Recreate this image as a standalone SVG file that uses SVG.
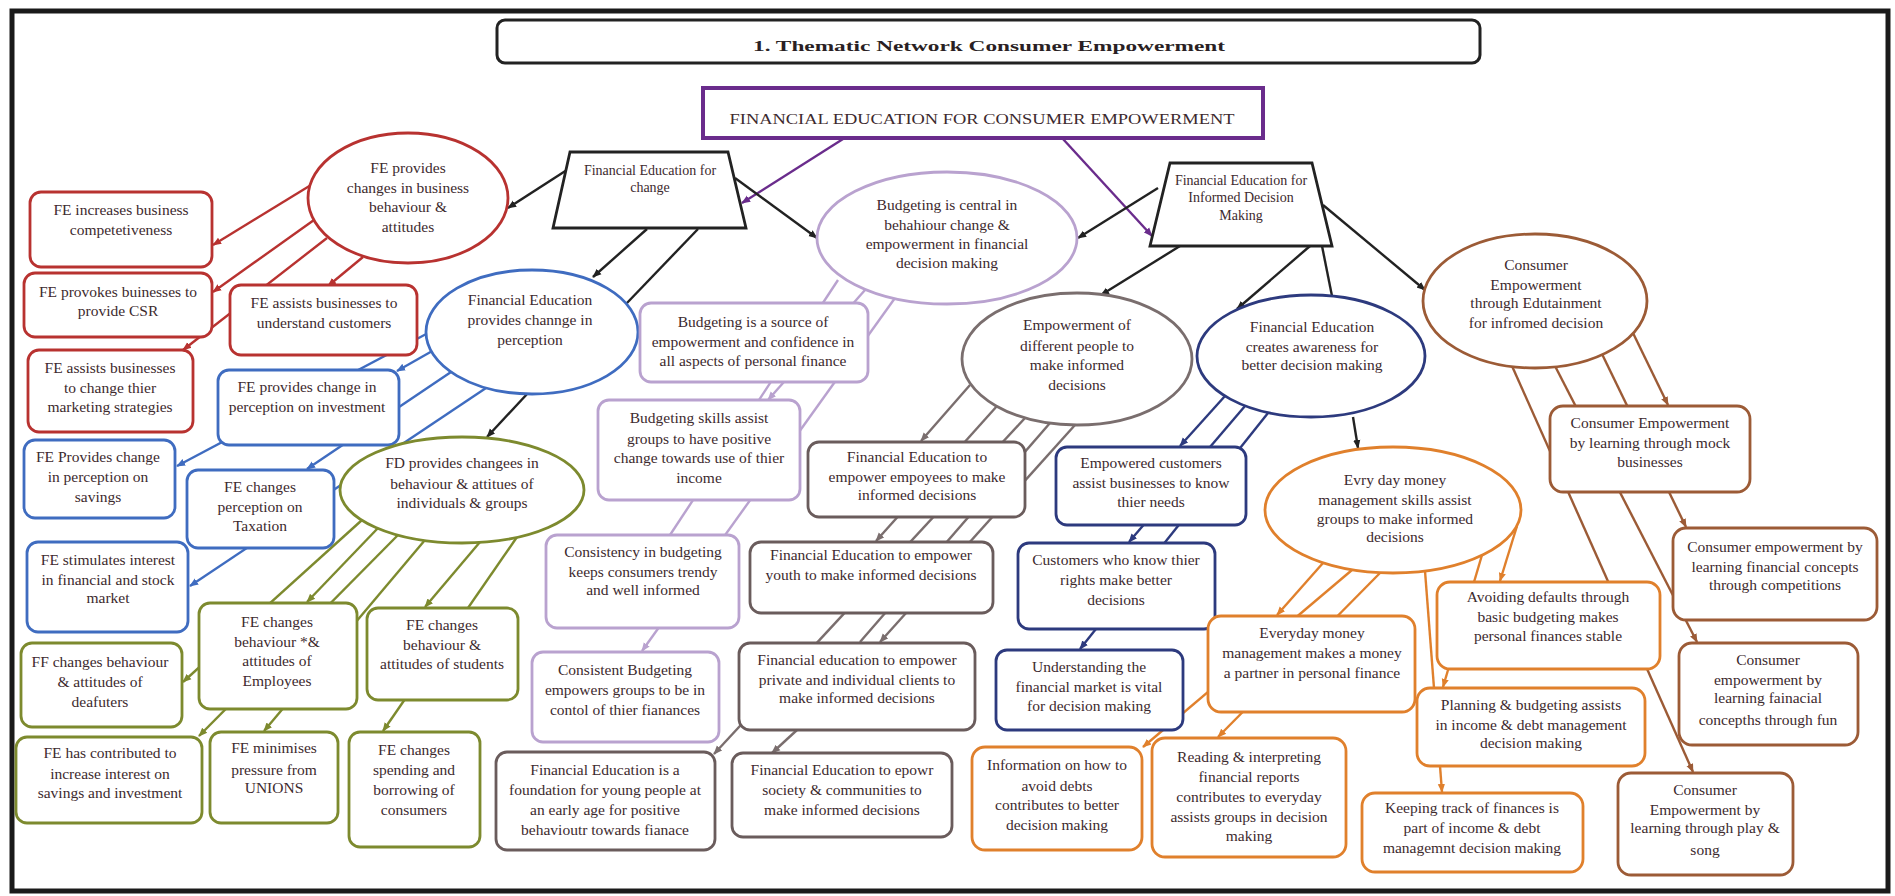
<svg xmlns="http://www.w3.org/2000/svg" width="1895" height="896" viewBox="0 0 1895 896">
<style>
text{font-family:"Liberation Serif","Times New Roman",serif;fill:#3d2a2e;text-anchor:middle;font-size:15.5px}
.sm{font-size:14px}
.c{fill:none;stroke-width:2.4}
.nd{fill:#fff;stroke-width:2.8}
.k{stroke:#222}.pu{stroke:#6a2c8c}.r{stroke:#b83230}.b{stroke:#3f6cc0}.o{stroke:#7d8a2e}.l{stroke:#b9a2cf}.g{stroke:#7a6e6e}.gb{stroke:#6a5c5c}.n{stroke:#2d3a7e}.or{stroke:#e0802c}.br{stroke:#9c5b36}
</style>
<defs>
<marker id="ak" viewBox="0 0 10 10" refX="9" refY="5" markerWidth="9" markerHeight="9" markerUnits="userSpaceOnUse" orient="auto"><path d="M0,1L10,5L0,9z" fill="#222"/></marker>
<marker id="apu" viewBox="0 0 10 10" refX="9" refY="5" markerWidth="9" markerHeight="9" markerUnits="userSpaceOnUse" orient="auto"><path d="M0,1L10,5L0,9z" fill="#6a2c8c"/></marker>
<marker id="ar" viewBox="0 0 10 10" refX="9" refY="5" markerWidth="9" markerHeight="9" markerUnits="userSpaceOnUse" orient="auto"><path d="M0,1L10,5L0,9z" fill="#b83230"/></marker>
<marker id="ab" viewBox="0 0 10 10" refX="9" refY="5" markerWidth="9" markerHeight="9" markerUnits="userSpaceOnUse" orient="auto"><path d="M0,1L10,5L0,9z" fill="#3f6cc0"/></marker>
<marker id="ao" viewBox="0 0 10 10" refX="9" refY="5" markerWidth="9" markerHeight="9" markerUnits="userSpaceOnUse" orient="auto"><path d="M0,1L10,5L0,9z" fill="#7d8a2e"/></marker>
<marker id="al" viewBox="0 0 10 10" refX="9" refY="5" markerWidth="9" markerHeight="9" markerUnits="userSpaceOnUse" orient="auto"><path d="M0,1L10,5L0,9z" fill="#b9a2cf"/></marker>
<marker id="ag" viewBox="0 0 10 10" refX="9" refY="5" markerWidth="9" markerHeight="9" markerUnits="userSpaceOnUse" orient="auto"><path d="M0,1L10,5L0,9z" fill="#7a6e6e"/></marker>
<marker id="an" viewBox="0 0 10 10" refX="9" refY="5" markerWidth="9" markerHeight="9" markerUnits="userSpaceOnUse" orient="auto"><path d="M0,1L10,5L0,9z" fill="#2d3a7e"/></marker>
<marker id="aor" viewBox="0 0 10 10" refX="9" refY="5" markerWidth="9" markerHeight="9" markerUnits="userSpaceOnUse" orient="auto"><path d="M0,1L10,5L0,9z" fill="#e0802c"/></marker>
<marker id="abr" viewBox="0 0 10 10" refX="9" refY="5" markerWidth="9" markerHeight="9" markerUnits="userSpaceOnUse" orient="auto"><path d="M0,1L10,5L0,9z" fill="#9c5b36"/></marker>
</defs>
<rect x="0" y="0" width="1895" height="896" fill="#fff"/>
<rect id="frame" x="12" y="11" width="1876" height="880" fill="none" stroke="#1a1a1a" stroke-width="5"/>

<g id="connectors">
<line class="c pu" x1="843" y1="139" x2="742" y2="203" marker-end="url(#apu)"/>
<line class="c pu" x1="1063" y1="139" x2="1152" y2="236" marker-end="url(#apu)"/>
<line class="c k" x1="570" y1="168" x2="508" y2="208" marker-end="url(#ak)"/>
<line class="c k" x1="735" y1="178" x2="817" y2="238" marker-end="url(#ak)"/>
<line class="c k" x1="647" y1="229" x2="593" y2="277" marker-end="url(#ak)"/>
<line class="c k" x1="698" y1="229" x2="626" y2="304"/>
<line class="c k" x1="1158" y1="188" x2="1078" y2="238" marker-end="url(#ak)"/>
<line class="c k" x1="1180" y1="246" x2="1101" y2="295" marker-end="url(#ak)"/>
<line class="c k" x1="1310" y1="246" x2="1237" y2="309" marker-end="url(#ak)"/>
<line class="c k" x1="1322" y1="246" x2="1332" y2="296"/>
<line class="c k" x1="1323" y1="205" x2="1425" y2="290" marker-end="url(#ak)"/>
<line class="c k" x1="528" y1="393" x2="487" y2="437" marker-end="url(#ak)"/>
<line class="c k" x1="1353" y1="417" x2="1358" y2="448" marker-end="url(#ak)"/>
<line class="c r" x1="311" y1="185" x2="213" y2="245" marker-end="url(#ar)"/>
<line class="c r" x1="314" y1="220" x2="213" y2="292" marker-end="url(#ar)"/>
<line class="c r" x1="327" y1="238" x2="183" y2="350" marker-end="url(#ar)"/>
<line class="c r" x1="363" y1="257" x2="328" y2="286" marker-end="url(#ar)"/>
<line class="c b" x1="430" y1="332" x2="177" y2="466" marker-end="url(#ab)"/>
<line class="c b" x1="434" y1="350" x2="397" y2="371" marker-end="url(#ab)"/>
<line class="c b" x1="454" y1="370" x2="307" y2="469" marker-end="url(#ab)"/>
<line class="c b" x1="486" y1="388" x2="190" y2="586" marker-end="url(#ab)"/>
<line class="c o" x1="362" y1="520" x2="183" y2="682" marker-end="url(#ao)"/>
<line class="c o" x1="378" y1="528" x2="307" y2="602" marker-end="url(#ao)"/>
<line class="c o" x1="398" y1="535" x2="199" y2="736" marker-end="url(#ao)"/>
<line class="c o" x1="425" y1="540" x2="264" y2="731" marker-end="url(#ao)"/>
<line class="c o" x1="480" y1="542" x2="425" y2="607" marker-end="url(#ao)"/>
<line class="c o" x1="517" y1="537" x2="383" y2="731" marker-end="url(#ao)"/>
<line class="c l" x1="838" y1="280" x2="670" y2="535"/>
<line class="c l" x1="865" y1="290" x2="768" y2="400" marker-end="url(#al)"/>
<line class="c l" x1="895" y1="298" x2="642" y2="651" marker-end="url(#al)"/>
<line class="c g" x1="970" y1="385" x2="921" y2="441" marker-end="url(#ag)"/>
<line class="c g" x1="997" y1="406" x2="876" y2="541" marker-end="url(#ag)"/>
<line class="c g" x1="1025" y1="418" x2="714" y2="754" marker-end="url(#ag)"/>
<line class="c g" x1="1050" y1="423" x2="860" y2="642"/>
<line class="c g" x1="1075" y1="425" x2="880" y2="642" marker-end="url(#ag)"/>
<line class="c g" x1="797" y1="730" x2="772" y2="753" marker-end="url(#ag)"/>
<line class="c n" x1="1225" y1="396" x2="1180" y2="446" marker-end="url(#an)"/>
<line class="c n" x1="1245" y1="406" x2="1129" y2="542" marker-end="url(#an)"/>
<line class="c n" x1="1268" y1="413" x2="1080" y2="649" marker-end="url(#an)"/>
<line class="c or" x1="1323" y1="563" x2="1277" y2="615" marker-end="url(#aor)"/>
<line class="c or" x1="1352" y1="570" x2="1143" y2="747" marker-end="url(#aor)"/>
<line class="c or" x1="1380" y1="573" x2="1218" y2="737" marker-end="url(#aor)"/>
<line class="c or" x1="1517" y1="526" x2="1500" y2="581" marker-end="url(#aor)"/>
<line class="c or" x1="1482" y1="555" x2="1443" y2="687" marker-end="url(#aor)"/>
<line class="c or" x1="1425" y1="571" x2="1442" y2="792" marker-end="url(#aor)"/>
<line class="c br" x1="1512" y1="366" x2="1693" y2="772" marker-end="url(#abr)"/>
<line class="c br" x1="1555" y1="366" x2="1697" y2="642" marker-end="url(#abr)"/>
<line class="c br" x1="1602" y1="354" x2="1686" y2="527" marker-end="url(#abr)"/>
<line class="c br" x1="1633" y1="333" x2="1668" y2="405" marker-end="url(#abr)"/>
</g>

<g id="title"><rect x="497" y="20" width="983" height="43" rx="8" fill="#fff" stroke="#222" stroke-width="3"/>
<text x="989" y="51" font-weight="bold" font-size="25" textLength="472" lengthAdjust="spacingAndGlyphs" style="fill:#2a1f24">1. Thematic Network Consumer Empowerment</text></g>

<g id="main"><rect x="703" y="88" width="560" height="50" fill="#fff" stroke="#6a2c8c" stroke-width="4"/>
<text x="982" y="124" font-size="21" textLength="505" lengthAdjust="spacingAndGlyphs">FINANCIAL EDUCATION FOR CONSUMER EMPOWERMENT</text></g>

<g id="fe-change"><polygon class="nd k" points="570,152 728,152 746,228 553,228"/>
<text class="sm" x="650" y="175">Financial Education for</text><text class="sm" x="650" y="192">change</text></g>

<g id="fe-informed"><polygon class="nd k" points="1170,163 1312,163 1332,246 1150,246"/>
<text class="sm" x="1241" y="185">Financial Education for</text><text class="sm" x="1241" y="202">Informed Decision</text><text class="sm" x="1241" y="220">Making</text></g>

<g id="red-ellipse"><ellipse class="nd r" cx="408" cy="198" rx="100" ry="65"/>
<text x="408" y="173">FE  provides</text><text x="408" y="193">changes in business</text><text x="408" y="212">behaviour &amp;</text><text x="408" y="232">attitudes</text></g>
<g id="red-1"><rect class="nd r" x="30" y="192" width="182" height="75" rx="11"/><text x="121" y="215">FE increases business</text><text x="121" y="235">competetiveness</text></g>
<g id="red-2"><rect class="nd r" x="24" y="273" width="188" height="64" rx="11"/><text x="118" y="297">FE provokes buinesses to</text><text x="118" y="316">provide CSR</text></g>
<g id="red-3"><rect class="nd r" x="230" y="285" width="187" height="70" rx="11"/><text x="324" y="308">FE assists businesses  to</text><text x="324" y="328">understand customers</text></g>
<g id="red-4"><rect class="nd r" x="28" y="350" width="165" height="82" rx="11"/><text x="110" y="373">FE assists businesses</text><text x="110" y="393">to change thier</text><text x="110" y="412">marketing strategies</text></g>

<g id="blue-ellipse"><ellipse class="nd b" cx="532" cy="332" rx="106" ry="62"/>
<text x="530" y="305">Financial Education</text><text x="530" y="325">provides channge in</text><text x="530" y="345">perception</text></g>
<g id="blue-1"><rect class="nd b" x="218" y="370" width="181" height="75" rx="11"/><text x="307" y="392">FE provides change in</text><text x="307" y="412">perception on investment</text></g>
<g id="blue-2"><rect class="nd b" x="24" y="440" width="151" height="78" rx="11"/><text x="98" y="462">FE Provides change</text><text x="98" y="482">in perception on</text><text x="98" y="502">savings</text></g>
<g id="blue-3"><rect class="nd b" x="187" y="470" width="147" height="78" rx="11"/><text x="260" y="492">FE changes</text><text x="260" y="512">perception on</text><text x="260" y="531">Taxation</text></g>
<g id="blue-4"><rect class="nd b" x="27" y="542" width="161" height="90" rx="11"/><text x="108" y="565">FE stimulates interest</text><text x="108" y="585">in financial and stock</text><text x="108" y="603">market</text></g>

<g id="olive-ellipse"><ellipse class="nd o" cx="462" cy="490" rx="122" ry="53"/>
<text x="462" y="468">FD provides changees in</text><text x="462" y="489">behaviour &amp; attitues of</text><text x="462" y="508">individuals &amp; groups</text></g>
<g id="olive-1"><rect class="nd o" x="21" y="643" width="161" height="84" rx="11"/><text x="100" y="667">FF changes behaviour</text><text x="100" y="687">&amp; attitudes  of</text><text x="100" y="707">deafuters</text></g>
<g id="olive-2"><rect class="nd o" x="199" y="603" width="158" height="106" rx="11"/><text x="277" y="627">FE changes</text><text x="277" y="647">behaviour *&amp;</text><text x="277" y="666">attitudes  of</text><text x="277" y="686">Employees</text></g>
<g id="olive-3"><rect class="nd o" x="367" y="608" width="151" height="92" rx="11"/><text x="442" y="630">FE changes</text><text x="442" y="650">behaviour &amp;</text><text x="442" y="669">attitudes of students</text></g>
<g id="olive-4"><rect class="nd o" x="16" y="737" width="186" height="86" rx="11"/><text x="110" y="758">FE has contributed to</text><text x="110" y="779">increase interest on</text><text x="110" y="798">savings and investment</text></g>
<g id="olive-5"><rect class="nd o" x="210" y="732" width="128" height="91" rx="11"/><text x="274" y="753">FE minimises</text><text x="274" y="775">pressure from</text><text x="274" y="793">UNIONS</text></g>
<g id="olive-6"><rect class="nd o" x="349" y="732" width="131" height="115" rx="11"/><text x="414" y="755">FE changes</text><text x="414" y="775">spending and</text><text x="414" y="795">borrowing of</text><text x="414" y="815">consumers</text></g>

<g id="budget-ellipse"><ellipse class="nd l" cx="947" cy="238" rx="130" ry="66" stroke-width="2"/>
<text x="947" y="210">Budgeting is central in</text><text x="947" y="230">behahiour change &amp;</text><text x="947" y="249">empowerment  in financial</text><text x="947" y="268">decision making</text></g>
<g id="budget-1"><rect class="nd l" x="640" y="303" width="228" height="79" rx="11"/><text x="753" y="327">Budgeting is a source of</text><text x="753" y="347">empowerment and confidence in</text><text x="753" y="366">all aspects of personal finance</text></g>
<g id="budget-2"><rect class="nd l" x="598" y="400" width="202" height="100" rx="11"/><text x="699" y="423">Budgeting skills assist</text><text x="699" y="444">groups to have positive</text><text x="699" y="463">change towards use of thier</text><text x="699" y="483">income</text></g>
<g id="budget-3"><rect class="nd l" x="546" y="535" width="193" height="93" rx="11"/><text x="643" y="557">Consistency in budgeting</text><text x="643" y="577">keeps consumers trendy</text><text x="643" y="595">and well  informed</text></g>
<g id="budget-4"><rect class="nd l" x="532" y="652" width="187" height="90" rx="11"/><text x="625" y="675">Consistent Budgeting</text><text x="625" y="695">empowers groups to be in</text><text x="625" y="715">contol of thier fianances</text></g>

<g id="people-ellipse"><ellipse class="nd g" cx="1077" cy="359" rx="115" ry="66"/>
<text x="1077" y="330">Empowerment of</text><text x="1077" y="351">different people to</text><text x="1077" y="370">make informed</text><text x="1077" y="390">decisions</text></g>
<g id="people-1"><rect class="nd gb" x="808" y="442" width="217" height="75" rx="11"/><text x="917" y="462">Financial Education to</text><text x="917" y="482">empower empoyees  to make</text><text x="917" y="500">informed decisions</text></g>
<g id="people-2"><rect class="nd gb" x="750" y="542" width="243" height="71" rx="11"/><text x="871" y="560">Financial Education to empower</text><text x="871" y="580">youth to make informed decisions</text></g>
<g id="people-3"><rect class="nd gb" x="739" y="643" width="236" height="87" rx="11"/><text x="857" y="665">Financial education to empower</text><text x="857" y="685">private and individual clients to</text><text x="857" y="703">make informed decisions</text></g>
<g id="people-4"><rect class="nd gb" x="496" y="752" width="219" height="98" rx="11"/><text x="605" y="775">Financial Education is a</text><text x="605" y="795">foundation for young people at</text><text x="605" y="815">an early age for positive</text><text x="605" y="835">behavioutr towards fianace</text></g>
<g id="people-5"><rect class="nd gb" x="732" y="753" width="220" height="84" rx="11"/><text x="842" y="775">Financial Education to epowr</text><text x="842" y="795">society &amp; communities to</text><text x="842" y="815">make informed decisions</text></g>

<g id="aware-ellipse"><ellipse class="nd n" cx="1311" cy="356" rx="114" ry="61"/>
<text x="1312" y="332">Financial Education</text><text x="1312" y="352">creates awareness for</text><text x="1312" y="370">better decision making</text></g>
<g id="aware-1"><rect class="nd n" x="1056" y="447" width="190" height="78" rx="11"/><text x="1151" y="468">Empowered customers</text><text x="1151" y="488">assist businesses  to know</text><text x="1151" y="507">thier needs</text></g>
<g id="aware-2"><rect class="nd n" x="1018" y="543" width="197" height="86" rx="11"/><text x="1116" y="565">Customers  who know thier</text><text x="1116" y="585">rights make better</text><text x="1116" y="605">decisions</text></g>
<g id="aware-3"><rect class="nd n" x="996" y="650" width="187" height="80" rx="11"/><text x="1089" y="672">Understanding the</text><text x="1089" y="692">financial market is vital</text><text x="1089" y="711">for decision making</text></g>

<g id="money-ellipse"><ellipse class="nd or" cx="1393" cy="510" rx="128" ry="63"/>
<text x="1395" y="485">Evry day money</text><text x="1395" y="505">management skills  assist</text><text x="1395" y="524">groups to make  informed</text><text x="1395" y="542">decisions</text></g>
<g id="money-1"><rect class="nd or" x="1208" y="616" width="207" height="96" rx="13"/><text x="1312" y="638">Everyday money</text><text x="1312" y="658">management makes a money</text><text x="1312" y="678">a partner in personal finance</text></g>
<g id="money-2"><rect class="nd or" x="972" y="747" width="170" height="103" rx="13"/><text x="1057" y="770">Information on how to</text><text x="1057" y="791">avoid  debts</text><text x="1057" y="810">contributes to better</text><text x="1057" y="830">decision making</text></g>
<g id="money-3"><rect class="nd or" x="1152" y="738" width="194" height="119" rx="13"/><text x="1249" y="762">Reading &amp; interpreting</text><text x="1249" y="782">financial reports</text><text x="1249" y="802">contributes to everyday</text><text x="1249" y="822">assists  groups in decision</text><text x="1249" y="841">making</text></g>
<g id="money-4"><rect class="nd or" x="1437" y="582" width="223" height="87" rx="13"/><text x="1548" y="602">Avoiding defaults through</text><text x="1548" y="622">basic budgeting makes</text><text x="1548" y="641">personal finances stable</text></g>
<g id="money-5"><rect class="nd or" x="1417" y="688" width="228" height="78" rx="13"/><text x="1531" y="710">Planning &amp; budgeting assists</text><text x="1531" y="730">in income &amp; debt management</text><text x="1531" y="748">decision making</text></g>
<g id="money-6"><rect class="nd or" x="1362" y="793" width="221" height="79" rx="13"/><text x="1472" y="813">Keeping track of finances is</text><text x="1472" y="833">part of income &amp; debt</text><text x="1472" y="853">managemnt decision making</text></g>

<g id="edu-ellipse"><ellipse class="nd br" cx="1535" cy="301" rx="112" ry="67"/>
<text x="1536" y="270">Consumer</text><text x="1536" y="290">Empowerment</text><text x="1536" y="308">through Edutainment</text><text x="1536" y="328">for infromed decision</text></g>
<g id="edu-1"><rect class="nd br" x="1550" y="406" width="200" height="86" rx="13"/><text x="1650" y="428">Consumer Empowerment</text><text x="1650" y="448">by learning through mock</text><text x="1650" y="467">businesses</text></g>
<g id="edu-2"><rect class="nd br" x="1673" y="528" width="204" height="92" rx="13"/><text x="1775" y="552">Consumer empowerment by</text><text x="1775" y="572">learning financial concepts</text><text x="1775" y="590">through competitions</text></g>
<g id="edu-3"><rect class="nd br" x="1679" y="643" width="179" height="102" rx="13"/><text x="1768" y="665">Consumer</text><text x="1768" y="685">empowerment by</text><text x="1768" y="703">learning fainacial</text><text x="1768" y="725">concepths through fun</text></g>
<g id="edu-4"><rect class="nd br" x="1618" y="773" width="175" height="102" rx="13"/><text x="1705" y="795">Consumer</text><text x="1705" y="815">Empowerment by</text><text x="1705" y="833">learning through play &amp;</text><text x="1705" y="855">song</text></g>
</svg>
